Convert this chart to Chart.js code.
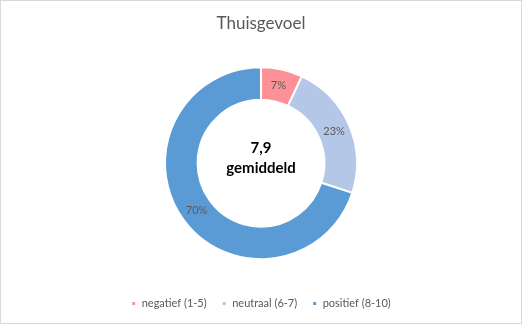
<!DOCTYPE html>
<html>
<head>
<meta charset="utf-8">
<script src="https://cdn.jsdelivr.net/npm/chart.js@4"></script>
<style>
  html, body { margin: 0; padding: 0; background: #fff; }
  #frame { width: 520px; height: 322px; border: 1px solid #d9d9d9; }
  canvas { display: block; }
</style>
</head>
<body>
<div id="frame"><canvas id="c" width="520" height="322"></canvas></div>
<script>
const categories = ['negatief (1-5)', 'neutraal (6-7)', 'positief (8-10)'];
const shares = [7, 23, 70];
const averageText = ['7,9', 'gemiddeld'];
const titleText = 'Thuisgevoel';
const colors = ['#FC9197', '#B4C7E7', '#5B9BD5'];

const FONT = 'Lato, "Open Sans", sans-serif';

// Percentages in the middle of each ring segment and the average in the hole
const ringLabels = {
  id: 'ringLabels',
  afterDatasetsDraw(chart) {
    const { ctx } = chart;
    const meta = chart.getDatasetMeta(0);
    ctx.save();
    ctx.font = '11px ' + FONT;
    ctx.fillStyle = '#595959';
    ctx.textAlign = 'center';
    ctx.textBaseline = 'middle';
    meta.data.forEach((arc, i) => {
      const p = arc.tooltipPosition();
      ctx.fillText(shares[i] + '%', p.x, p.y);
    });
    const cx = meta.data[0].x, cy = meta.data[0].y;
    ctx.font = 'bold 15px ' + FONT;
    ctx.fillStyle = '#000';
    ctx.fillText(averageText[0], cx, cy - 15);
    ctx.fillText(averageText[1], cx, cy + 5);
    ctx.restore();
  }
};

new Chart(document.getElementById('c'), {
  type: 'doughnut',
  data: {
    labels: categories,
    datasets: [{
      data: shares,
      backgroundColor: colors,
      borderColor: '#ffffff',
      borderWidth: 2,
      radius: 96
    }]
  },
  options: {
    responsive: false,
    animation: false,
    cutout: '66%',
    layout: { padding: { top: 6, bottom: 4 } },
    plugins: {
      title: {
        display: true,
        text: titleText,
        color: '#595959',
        font: { family: FONT, size: 17, weight: 'normal' },
        padding: { top: 6, bottom: 10 }
      },
      legend: {
        position: 'bottom',
        labels: {
          color: '#595959',
          font: { family: FONT, size: 11 },
          boxWidth: 5,
          boxHeight: 5,
          padding: 15
        }
      },
      tooltip: { enabled: false }
    }
  },
  plugins: [ringLabels]
});
</script>
</body>
</html>
